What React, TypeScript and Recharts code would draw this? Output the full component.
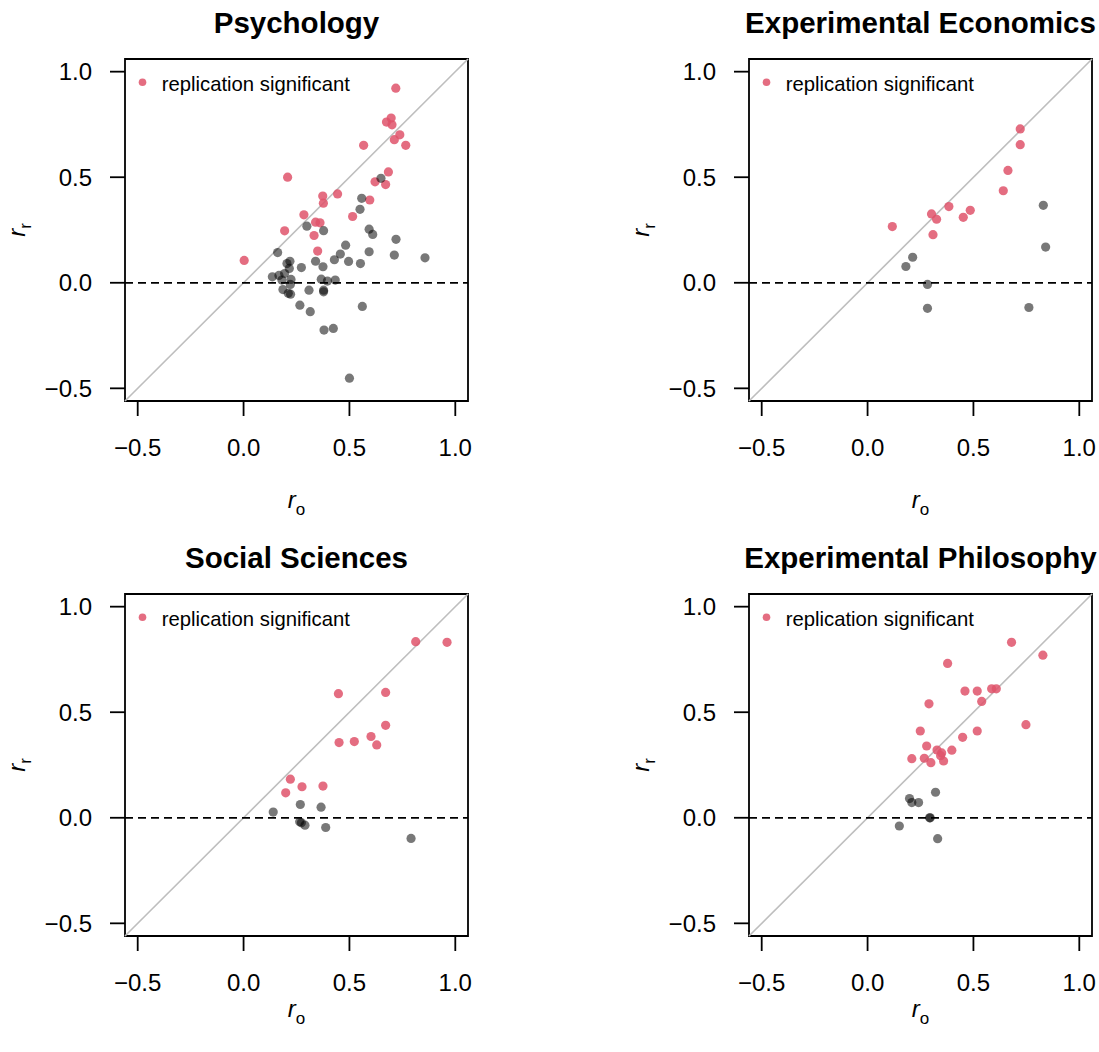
import React from 'react'
import { ScatterChart, Scatter, XAxis, YAxis, ReferenceLine, ReferenceArea } from 'recharts'

type Pt = { ro: number; rr: number }

const TICKS = [-0.5, 0, 0.5, 1]
const DOMAIN: [number, number] = [-0.56, 1.06]
const RED = '#DF536B'
const FONT = '"Liberation Sans", Arial, Helvetica, sans-serif'

// Psychology
const psychSig: Pt[] = [
  { ro: 0.719, rr: 0.922 }, { ro: 0.697, rr: 0.78 }, { ro: 0.675, rr: 0.761 }, { ro: 0.701, rr: 0.748 },
  { ro: 0.738, rr: 0.701 }, { ro: 0.712, rr: 0.678 }, { ro: 0.766, rr: 0.651 }, { ro: 0.567, rr: 0.651 },
  { ro: 0.208, rr: 0.5 }, { ro: 0.684, rr: 0.525 }, { ro: 0.621, rr: 0.478 }, { ro: 0.671, rr: 0.465 },
  { ro: 0.596, rr: 0.392 }, { ro: 0.374, rr: 0.411 }, { ro: 0.377, rr: 0.377 }, { ro: 0.444, rr: 0.421 },
  { ro: 0.515, rr: 0.314 }, { ro: 0.285, rr: 0.322 }, { ro: 0.34, rr: 0.287 }, { ro: 0.361, rr: 0.284 },
  { ro: 0.194, rr: 0.246 }, { ro: 0.333, rr: 0.224 }, { ro: 0.35, rr: 0.15 }, { ro: 0.003, rr: 0.106 },
]
const psychNon: Pt[] = [
  { ro: 0.649, rr: 0.495 }, { ro: 0.558, rr: 0.4 }, { ro: 0.55, rr: 0.348 }, { ro: 0.593, rr: 0.254 },
  { ro: 0.61, rr: 0.229 }, { ro: 0.72, rr: 0.206 }, { ro: 0.299, rr: 0.268 }, { ro: 0.378, rr: 0.247 },
  { ro: 0.482, rr: 0.178 }, { ro: 0.457, rr: 0.136 }, { ro: 0.593, rr: 0.147 }, { ro: 0.712, rr: 0.131 },
  { ro: 0.857, rr: 0.118 }, { ro: 0.429, rr: 0.109 }, { ro: 0.496, rr: 0.101 }, { ro: 0.552, rr: 0.091 },
  { ro: 0.34, rr: 0.102 }, { ro: 0.375, rr: 0.076 }, { ro: 0.273, rr: 0.072 }, { ro: 0.161, rr: 0.143 },
  { ro: 0.219, rr: 0.102 }, { ro: 0.205, rr: 0.091 }, { ro: 0.216, rr: 0.068 }, { ro: 0.136, rr: 0.028 },
  { ro: 0.167, rr: 0.035 }, { ro: 0.194, rr: 0.044 }, { ro: 0.181, rr: 0.013 }, { ro: 0.224, rr: 0.016 },
  { ro: 0.221, rr: -0.008 }, { ro: 0.186, rr: -0.032 }, { ro: 0.211, rr: -0.05 }, { ro: 0.222, rr: -0.054 },
  { ro: 0.367, rr: 0.017 }, { ro: 0.396, rr: 0.008 }, { ro: 0.433, rr: 0.013 }, { ro: 0.378, rr: -0.035 },
  { ro: 0.378, rr: -0.043 }, { ro: 0.309, rr: -0.035 }, { ro: 0.266, rr: -0.106 }, { ro: 0.315, rr: -0.137 },
  { ro: 0.561, rr: -0.112 }, { ro: 0.38, rr: -0.224 }, { ro: 0.424, rr: -0.216 }, { ro: 0.5, rr: -0.452 },
]

// Experimental Economics
const econSig: Pt[] = [
  { ro: 0.721, rr: 0.729 }, { ro: 0.721, rr: 0.654 }, { ro: 0.663, rr: 0.532 }, { ro: 0.641, rr: 0.436 },
  { ro: 0.384, rr: 0.361 }, { ro: 0.302, rr: 0.326 }, { ro: 0.326, rr: 0.301 }, { ro: 0.452, rr: 0.31 },
  { ro: 0.485, rr: 0.343 }, { ro: 0.309, rr: 0.228 }, { ro: 0.117, rr: 0.266 },
]
const econNon: Pt[] = [
  { ro: 0.83, rr: 0.367 }, { ro: 0.841, rr: 0.169 }, { ro: 0.213, rr: 0.121 }, { ro: 0.181, rr: 0.077 },
  { ro: 0.283, rr: -0.008 }, { ro: 0.283, rr: -0.121 }, { ro: 0.762, rr: -0.117 },
]

// Social Sciences
const socSig: Pt[] = [
  { ro: 0.813, rr: 0.834 }, { ro: 0.961, rr: 0.831 }, { ro: 0.448, rr: 0.588 }, { ro: 0.671, rr: 0.594 },
  { ro: 0.671, rr: 0.438 }, { ro: 0.602, rr: 0.385 }, { ro: 0.629, rr: 0.345 }, { ro: 0.523, rr: 0.361 },
  { ro: 0.451, rr: 0.356 }, { ro: 0.221, rr: 0.183 }, { ro: 0.276, rr: 0.147 }, { ro: 0.375, rr: 0.15 },
  { ro: 0.199, rr: 0.118 },
]
const socNon: Pt[] = [
  { ro: 0.268, rr: 0.063 }, { ro: 0.366, rr: 0.05 }, { ro: 0.14, rr: 0.027 }, { ro: 0.265, rr: -0.019 },
  { ro: 0.29, rr: -0.035 }, { ro: 0.273, rr: -0.024 }, { ro: 0.388, rr: -0.046 }, { ro: 0.791, rr: -0.098 },
]

// Experimental Philosophy
const philSig: Pt[] = [
  { ro: 0.68, rr: 0.831 }, { ro: 0.828, rr: 0.77 }, { ro: 0.378, rr: 0.731 }, { ro: 0.46, rr: 0.6 },
  { ro: 0.518, rr: 0.6 }, { ro: 0.586, rr: 0.611 }, { ro: 0.608, rr: 0.611 }, { ro: 0.539, rr: 0.551 },
  { ro: 0.29, rr: 0.54 }, { ro: 0.748, rr: 0.441 }, { ro: 0.518, rr: 0.411 }, { ro: 0.249, rr: 0.411 },
  { ro: 0.449, rr: 0.381 }, { ro: 0.279, rr: 0.34 }, { ro: 0.398, rr: 0.32 }, { ro: 0.328, rr: 0.321 },
  { ro: 0.35, rr: 0.307 }, { ro: 0.345, rr: 0.294 }, { ro: 0.209, rr: 0.28 }, { ro: 0.268, rr: 0.282 },
  { ro: 0.359, rr: 0.269 }, { ro: 0.299, rr: 0.261 },
]
const philNon: Pt[] = [
  { ro: 0.321, rr: 0.121 }, { ro: 0.198, rr: 0.091 }, { ro: 0.209, rr: 0.072 }, { ro: 0.241, rr: 0.072 },
  { ro: 0.293, rr: 0.0 }, { ro: 0.296, rr: 0.0 }, { ro: 0.15, rr: -0.039 }, { ro: 0.331, rr: -0.099 },
]

// panel geometry (px, inside each chart)
const W = 475
const H = 530
const PLOT_L = 125
const PLOT_T = 59
const PLOT_W = 343
const X_AXIS_H = 129

const fmt = (v: number) => v.toFixed(1).replace('-', '\u2212')

const dot = (fill: string, opacity: number) => (p: any) =>
  <circle cx={p.cx} cy={p.cy} r={4.6} fill={fill} fillOpacity={opacity} />

function Panel({ title, sig, non, left, top, xLabY }: {
  title: string; sig: Pt[]; non: Pt[]; left: number; top: number; xLabY: number
}) {
  const cx = PLOT_L + PLOT_W / 2
  return (
    <div style={{ position: 'absolute', left, top, width: W, height: H }}>
      <ScatterChart width={W} height={H} margin={{ top: PLOT_T, right: W - PLOT_L - PLOT_W, bottom: 0, left: 0 }}>
        <XAxis
          type="number" dataKey="ro" domain={DOMAIN} ticks={TICKS} allowDataOverflow interval={0}
          height={X_AXIS_H} axisLine={false} tickSize={15} tickMargin={23} tickFormatter={fmt}
          tickLine={{ stroke: '#000', strokeWidth: 1.8 }}
          tick={{ fontSize: 24, fill: '#000', fontFamily: FONT }}
          label={() => (
            <text x={cx} y={xLabY} textAnchor="middle" fontFamily={FONT} fill="#000">
              <tspan fontSize={24} fontStyle="italic">r</tspan>
              <tspan fontSize={17} dy={7}>o</tspan>
            </text>
          )}
        />
        <YAxis
          type="number" dataKey="rr" domain={DOMAIN} ticks={TICKS} allowDataOverflow interval={0}
          width={PLOT_L} axisLine={false} tickSize={15} tickMargin={18} tickFormatter={fmt}
          tickLine={{ stroke: '#000', strokeWidth: 1.8 }}
          tick={{ fontSize: 24, fill: '#000', fontFamily: FONT }}
          label={() => (
            <text x={25} y={230} transform="rotate(-90 25 230)" textAnchor="middle" fontFamily={FONT} fill="#000">
              <tspan fontSize={24} fontStyle="italic">r</tspan>
              <tspan fontSize={17} dy={6}>r</tspan>
            </text>
          )}
        />
        <ReferenceLine
          segment={[{ x: DOMAIN[0], y: DOMAIN[0] }, { x: DOMAIN[1], y: DOMAIN[1] }]}
          stroke="#BEBEBE" strokeWidth={1.6} ifOverflow="visible"
        />
        <ReferenceLine y={0} stroke="#000" strokeWidth={1.8} strokeDasharray="8 5" />
        <Scatter data={sig} isAnimationActive={false} shape={dot(RED, 0.85)} />
        <Scatter data={non} isAnimationActive={false} shape={dot('#000', 0.53)} />
        <ReferenceArea
          x1={DOMAIN[0]} x2={DOMAIN[1]} y1={DOMAIN[0]} y2={DOMAIN[1]}
          fill="none" fillOpacity={0} stroke="#000" strokeWidth={1.8} ifOverflow="visible"
        />
      </ScatterChart>
      <svg width={W} height={H} style={{ position: 'absolute', left: 0, top: 0, pointerEvents: 'none', overflow: 'visible' }}>
        <text x={cx} y={PLOT_T - 26} textAnchor="middle" fontFamily={FONT} fontSize={29.5} fontWeight="bold" fill="#000">
          {title}
        </text>
        <circle cx={PLOT_L + 17.5} cy={PLOT_T + 23.3} r={3.8} fill={RED} fillOpacity={0.85} />
        <text x={PLOT_L + 36.7} y={PLOT_T + 32} fontFamily={FONT} fontSize={20.3} fill="#000">
          replication significant
        </text>
      </svg>
    </div>
  )
}

export default function App() {
  return (
    <div style={{ position: 'absolute', left: 0, top: 0, width: 1099, height: 1052, overflow: 'hidden', background: '#fff', fontFamily: FONT }}>
      <Panel title="Psychology" sig={psychSig} non={psychNon} left={0} top={0} xLabY={508} />
      <Panel title="Experimental Economics" sig={econSig} non={econNon} left={624} top={0} xLabY={508} />
      <Panel title="Social Sciences" sig={socSig} non={socNon} left={0} top={535} xLabY={482} />
      <Panel title="Experimental Philosophy" sig={philSig} non={philNon} left={624} top={535} xLabY={482} />
    </div>
  )
}
